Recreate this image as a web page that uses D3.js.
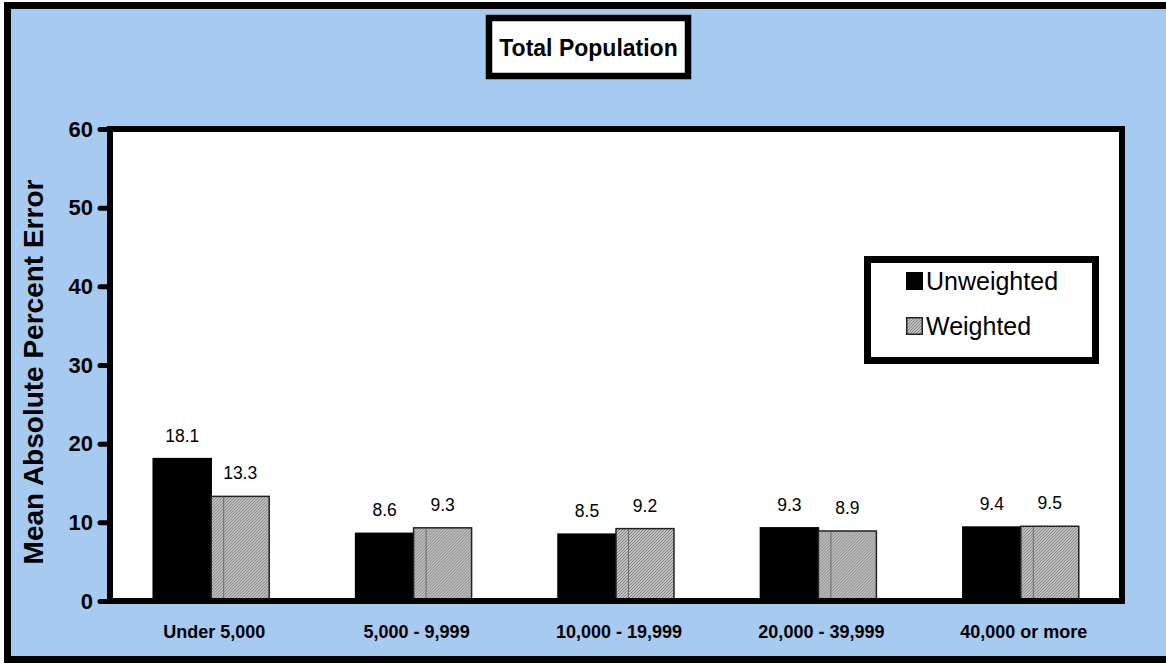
<!DOCTYPE html>
<html>
<head>
<meta charset="utf-8">
<script src="https://cdn.jsdelivr.net/npm/d3@7"></script>
<style>
  html, body { margin: 0; padding: 0; background: #ffffff; }
  svg { display: block; font-family: "Liberation Sans", Arial, sans-serif; }
</style>
</head>
<body>
<svg id="chart" width="1166" height="664"></svg>
<script>
const categories = ["Under 5,000", "5,000 - 9,999", "10,000 - 19,999", "20,000 - 39,999", "40,000 or more"];
const seriesNames = ["Unweighted", "Weighted"];
const unweighted = [18.1, 8.6, 8.5, 9.3, 9.4];
const weighted = [13.3, 9.3, 9.2, 8.9, 9.5];
const yTicks = [0, 10, 20, 30, 40, 50, 60];
const chartTitle = "Total Population";
const yTitle = "Mean Absolute Percent Error";

const svg = d3.select("#chart");
const W = 1166, H = 664;

// fine hatch pattern for weighted bars
const defs = svg.append("defs");
const pat = defs.append("pattern").attr("id", "hatch")
  .attr("patternUnits", "userSpaceOnUse").attr("width", 3).attr("height", 3);
pat.append("rect").attr("width", 3).attr("height", 3).attr("fill", "#c2c2c2");
pat.append("rect").attr("x", 0).attr("y", 2).attr("width", 1).attr("height", 1).attr("fill", "#808080");
pat.append("rect").attr("x", 1).attr("y", 1).attr("width", 1).attr("height", 1).attr("fill", "#808080");
pat.append("rect").attr("x", 2).attr("y", 0).attr("width", 1).attr("height", 1).attr("fill", "#808080");

// outer background
svg.append("rect").attr("x", 0).attr("y", 0).attr("width", W).attr("height", H).attr("fill", "#ffffff");
svg.append("rect").attr("x", 7.5).attr("y", 5.5).attr("width", 1200).attr("height", 654)
  .attr("fill", "#A6CAF0").attr("stroke", "#000").attr("stroke-width", 7);

const plot = { left: 110, top: 129, right: 1122, bottom: 601 };

const y = d3.scaleLinear().domain([0, 60]).range([plot.bottom, plot.top]);
const x0 = d3.scaleBand().domain(categories).range([plot.left, plot.right])
  .paddingInner(0.427).paddingOuter(0.2135);
const x1 = d3.scaleBand().domain(seriesNames).range([0, x0.bandwidth()]).padding(0);

// plot area
svg.append("rect").attr("x", plot.left).attr("y", plot.top)
  .attr("width", plot.right - plot.left).attr("height", plot.bottom - plot.top)
  .attr("fill", "#ffffff").attr("stroke", "#000").attr("stroke-width", 6);

const data = categories.map((c, i) => ({ cat: c, vals: [
  { s: "Unweighted", v: unweighted[i] }, { s: "Weighted", v: weighted[i] } ] }));

const groups = svg.append("g").selectAll("g").data(data).join("g")
  .attr("transform", d => `translate(${x0(d.cat)},0)`);

groups.selectAll("rect.bar").data(d => d.vals).join("rect").attr("class", "bar")
  .attr("x", d => x1(d.s))
  .attr("y", d => y(d.v))
  .attr("width", x1.bandwidth())
  .attr("height", d => y(0) - y(d.v))
  .attr("fill", d => d.s === "Unweighted" ? "#000" : "url(#hatch)")
  .attr("stroke", d => d.s === "Unweighted" ? "#000" : "#222")
  .attr("stroke-width", 1.5);

// faint vertical line inside weighted bars
groups.selectAll("line.inner").data(d => d.vals.filter(v => v.s === "Weighted")).join("line")
  .attr("class", "inner")
  .attr("x1", d => x1(d.s) + 12.5).attr("x2", d => x1(d.s) + 12.5)
  .attr("y1", d => y(d.v) + 1).attr("y2", y(0))
  .attr("stroke", "#6a6a6a").attr("stroke-width", 1);

// value labels
groups.selectAll("text.val").data(d => d.vals).join("text").attr("class", "val")
  .attr("x", d => x1(d.s) + x1.bandwidth() / 2)
  .attr("y", d => y(d.v) - 17)
  .attr("text-anchor", "middle")
  .attr("font-size", "17.5px")
  .attr("fill", "#000")
  .text(d => d.v.toFixed(1));

// frame on top
svg.append("rect").attr("x", plot.left).attr("y", plot.top)
  .attr("width", plot.right - plot.left).attr("height", plot.bottom - plot.top)
  .attr("fill", "none").attr("stroke", "#000").attr("stroke-width", 6);

// y axis
const yAxis = svg.append("g").attr("transform", `translate(${plot.left},0)`)
  .call(d3.axisLeft(y).tickValues(yTicks).tickSize(10).tickPadding(7).tickFormat(d3.format("d")));
yAxis.select(".domain").remove();
yAxis.selectAll(".tick line").attr("stroke", "#000").attr("stroke-width", 5).attr("stroke-linecap", "round");
yAxis.selectAll(".tick text").attr("font-size", "22px").attr("font-weight", "bold")
  .attr("font-family", "Liberation Sans, Arial, sans-serif").attr("fill", "#000");

// x axis
const xAxis = svg.append("g").attr("transform", `translate(3,${plot.bottom})`)
  .call(d3.axisBottom(x0).tickSize(0).tickPadding(24));
xAxis.select(".domain").remove();
xAxis.selectAll(".tick text").attr("font-size", "18px").attr("font-weight", "bold")
  .attr("font-family", "Liberation Sans, Arial, sans-serif").attr("fill", "#000");

// y title
svg.append("text")
  .attr("transform", `translate(43,372) rotate(-90)`)
  .attr("text-anchor", "middle")
  .attr("font-size", "28px").attr("font-weight", "bold")
  .text(yTitle);

// title box
svg.append("rect").attr("x", 489).attr("y", 18).attr("width", 199).attr("height", 58)
  .attr("fill", "#fff").attr("stroke", "#000").attr("stroke-width", 6.5);
svg.append("text").attr("x", 588.5).attr("y", 55.5).attr("text-anchor", "middle")
  .attr("font-size", "23px").attr("font-weight", "bold").text(chartTitle);

// legend
const lg = svg.append("g");
lg.append("rect").attr("x", 867.5).attr("y", 259.5).attr("width", 228).attr("height", 101)
  .attr("fill", "#fff").attr("stroke", "#000").attr("stroke-width", 7);
const legendItems = lg.selectAll("g.item").data(seriesNames).join("g").attr("class", "item")
  .attr("transform", (d, i) => `translate(906,${272 + i * 45})`);
legendItems.append("rect").attr("x", 0.75).attr("y", 0.75).attr("width", 15.5).attr("height", 16.5)
  .attr("fill", d => d === "Unweighted" ? "#000" : "url(#hatch)")
  .attr("stroke", d => d === "Unweighted" ? "#000" : "#222").attr("stroke-width", 1.5);
legendItems.append("text").attr("x", 20).attr("y", 18).attr("font-size", "25px").text(d => d);
</script>
</body>
</html>
